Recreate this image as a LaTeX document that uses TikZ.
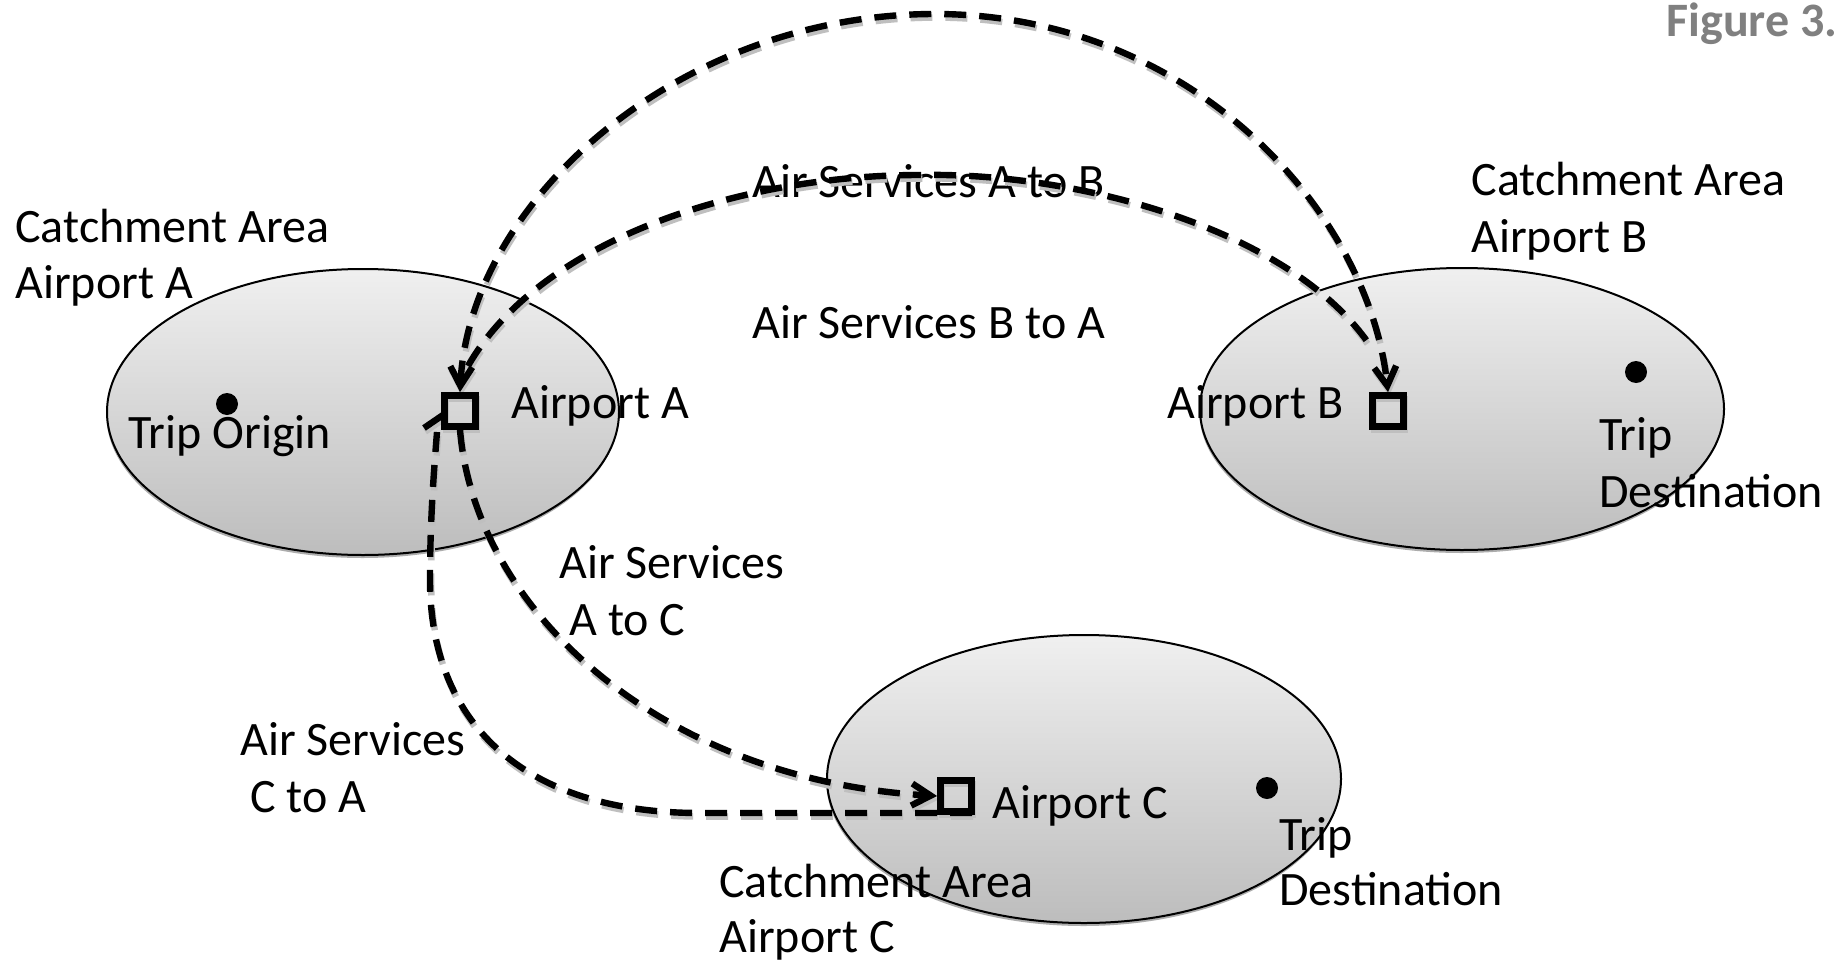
\documentclass[tikz,border=0pt]{standalone}
\usepackage{fontspec}
\setmainfont{Carlito}
\usetikzlibrary{arrows.meta,shapes.geometric,shadows}
\begin{document}
\begin{tikzpicture}[x=0.5pt,y=-0.5pt,
  >={Straight Barb[length=9.5pt,width=11pt]},
  area/.style={ellipse, draw, line width=1pt, inner sep=0pt,
    top color=gray!12, bottom color=gray!52,
    general shadow={fill=gray!65, shadow xshift=-0.3pt, shadow yshift=-1.5pt}},
  lbl/.style={anchor=base west, inner sep=0pt, font=\fontsize{24}{29}\selectfont},
  dot/.style={circle, fill=black, minimum size=11pt, inner sep=0pt},
  sq/.style={draw, line width=3.4pt, minimum size=15.5pt, inner sep=0pt},
  sqshadow/.style={draw=gray!50, line width=3pt, minimum size=15.5pt, inner sep=0pt},
  conn/.style={line width=3.2pt, dash pattern=on 11pt off 6.5pt},
  shadowed/.style={transform canvas={shift={(0.6pt,-1.8pt)}}, draw=gray!50},
  stub/.style={line width=3.2pt}
]
\useasboundingbox (0,0) rectangle (1841,963);
\fill[white] (0,0) rectangle (1841,963);

% catchment areas
\node[area, minimum width=256pt, minimum height=143pt] (ellA) at (363,412) {};
\node[area, minimum width=262pt, minimum height=141pt] (ellB) at (1462,409) {};
\node[area, minimum width=257pt, minimum height=144pt] (ellC) at (1084,779) {};

% trip points
\node[dot] (dotA) at (227,404) {};
\node[dot] (dotB) at (1636,372) {};
\node[dot] (dotC) at (1267,788) {};

% labels
\node[lbl] (caA1) at (15,242) {Catchment Area};
\node[lbl] (caA2) at (15,298) {Airport A};
\node[lbl] (tO) at (128,448) {Trip Origin};
\node[lbl] (apA) at (511,418) {Airport A};
\node[lbl] (apB) at (1167,418) {Airport B};
\node[lbl] (caB1) at (1471,195) {Catchment Area};
\node[lbl] (caB2) at (1471,252) {Airport B};
\node[lbl] (tB1) at (1599,450) {Trip};
\node[lbl] (tB2) at (1599,507) {Destination};
\node[lbl] (asAB) at (752,197) {Air Services A to B};
\node[lbl] (asBA) at (752,338) {Air Services B to A};
\node[lbl] (asAC1) at (559,578) {Air Services};
\node[lbl] (asAC2) at (569,635) {A to C};
\node[lbl] (asCA1) at (240,755) {Air Services};
\node[lbl] (asCA2) at (250,812) {C to A};
\node[lbl] (apC) at (992,818) {Airport C};
\node[lbl] (tC1) at (1279,850) {Trip};
\node[lbl] (tC2) at (1279,905) {Destination};
\node[lbl] (caC1) at (719,897) {Catchment Area};
\node[lbl] (caC2) at (719,952) {Airport C};
\node[anchor=base east, inner sep=0pt, text=gray, font=\bfseries\fontsize{24}{29}\selectfont] (fig) at (1838,37) {Figure 3.};

% airports
\coordinate (pA) at (460,411);
\coordinate (pB) at (1388,411);
\coordinate (pC) at (956,796);

% free ends
\coordinate (iA) at (468,366);
\coordinate (iB) at (1369,344);
\coordinate (cC) at (972,813);
\coordinate (cA) at (437,432);
\coordinate (sA1) at (424,428);
\coordinate (sA2) at (443,415);

% square anchors
\node[minimum size=15.5pt, inner sep=0pt, outer sep=1.7pt] (sqA) at (pA) {};
\node[minimum size=15.5pt, inner sep=0pt, outer sep=1.7pt] (sqB) at (pB) {};
\node[minimum size=15.5pt, inner sep=0pt, outer sep=1.7pt] (sqC) at (pC) {};

% connector paths
\def\pathAB{(sqA.north) .. controls (470,200) and (680,14) .. (935,14)
   .. controls (1190,14) and (1368,210) .. (sqB.north)}
\def\pathInner{(iA) .. controls (540,240) and (740,175) .. (920,175)
   .. controls (1080,172) and (1290,230) .. (iB)}
\def\pathAC{(sqA.south) .. controls (475,610) and (660,780) .. (sqC.west)}
\def\pathCA{(cC) -- (700,813) .. controls (520,813) and (430,720) .. (430,580)
   .. controls (430,520) and (434,470) .. (cA)}

% shadows of connectors
\begin{scope}[shadowed]
\draw[conn, <->] \pathAB;
\draw[conn] \pathInner;
\draw[conn, ->] \pathAC;
\draw[conn] \pathCA;
\draw[stub] (sA1) -- (sA2);
\node[sqshadow] (sqAs) at (pA) {};
\node[sqshadow] (sqBs) at (pB) {};
\node[sqshadow] (sqCs) at (pC) {};
\end{scope}

% connectors
\draw[conn, <->] \pathAB;
\draw[conn] \pathInner;
\draw[conn, ->] \pathAC;
\draw[conn] \pathCA;
\draw[stub] (sA1) -- (sA2);

% airport squares
\node[sq] (sqAd) at (pA) {};
\node[sq] (sqBd) at (pB) {};
\node[sq] (sqCd) at (pC) {};
\end{tikzpicture}
\end{document}
